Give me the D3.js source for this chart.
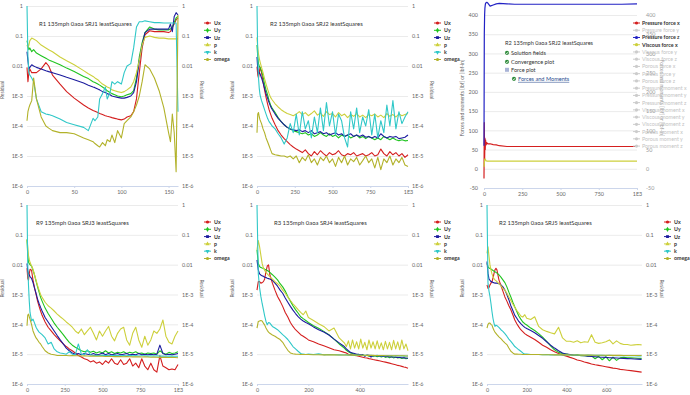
<!DOCTYPE html>
<html>
<head>
<meta charset="utf-8">
<script src="https://cdn.jsdelivr.net/npm/d3@7"></script>
<style>
  body { margin: 0; background: #fff; }
  svg { display: block; font-family: Lato, "Open Sans", "DejaVu Sans", sans-serif; }
</style>
</head>
<body>
<script>
// residual series shared by the five convergence charts
const seriesNames = ["Ux", "Uy", "Uz", "p", "k", "omega"];
const seriesColors = ["#d41f1f", "#1fc41f", "#1c1c9e", "#cdd03c", "#30c8c8", "#b2b22a"];
const resTicks = [1, 0.1, 0.01, 1e-3, 1e-4, 1e-5, 1e-6];
const resTickLabels = ["1", "0.1", "0.01", "1E-3", "1E-4", "1E-5", "1E-6"];

// R1 SRJ1
const srj1Iter = [0,1,2,3,5,7,10,15,20,23,27,35,42,50,60,65,70,72,75,77,80,83,85,88,90,93,96,100,103,106,110,113,116,119,122,125,130,135,140,145,150,152,154,156,158,160];
const srj1Ux = [0.009,0.003,0.006,0.008,0.006,0.006,0.006, 0.008,0.013,0.01,0.005,0.0025,0.0014,8.5e-4, 5e-4,4e-4,3.3e-4,3.1e-4,2.8e-4,2.6e-4,2.4e-4, 2.2e-4,2.1e-4,2e-4,1.9e-4,1.8e-4,1.7e-4,1.6e-4, 1.7e-4,2e-4,2.2e-4,3e-4,8e-4,0.006,0.04, 0.11,0.15,0.14,0.14,0.14,0.13,0.14, 0.2,0.25,0.35,0.4];
const srj1Uy = [0.07,0.05,0.035,0.04,0.03,0.035,0.027, 0.022,0.018,0.016,0.014,0.011,0.0085,0.0065, 0.0045,0.0038,0.003,0.0028,0.0025,0.0023,0.002, 0.0017,0.0015,0.0013,0.0012,0.0011,0.001,9.5e-4, 0.001,0.0011,0.0012,0.0015,0.004,0.02,0.06, 0.13,0.2,0.17,0.16,0.16,0.16,0.17, 0.2,0.28,0.4,0.45];
const srj1Uz = [0.03,0.015,0.008,0.009,0.011,0.01,0.009, 0.008,0.007,0.0065,0.006,0.005,0.0042,0.0035, 0.0027,0.0023,0.002,0.0019,0.0017,0.0016,0.0014, 0.0013,0.0012,0.0011,0.001,9.5e-4,9e-4,8.5e-4, 8.5e-4,9e-4,0.001,0.0013,0.003,0.015,0.05, 0.13,0.17,0.17,0.17,0.17,0.17,0.25, 0.14,0.45,0.6,0.5];
const srj1P = [0.05,0.04,0.05,0.07,0.085,0.08,0.07, 0.05,0.04,0.035,0.03,0.02,0.015,0.011, 0.007,0.0055,0.0045,0.004,0.0035,0.003,0.0025, 0.0022,0.002,0.0018,0.0016,0.0015,0.0014,0.0013, 0.0014,0.0016,0.002,0.003,0.006,0.015,0.05, 0.09,0.1,0.09,0.085,0.085,0.08,0.08, 0.08,0.08,0.08,0.08];
const srj1K = [1,0.02,0.006,0.005,0.004,0.003,8e-4, 3e-4,2.5e-4,2.4e-4,2.2e-4,1.7e-4,1.3e-4,1.1e-4, 9e-5,7e-5,1.8e-4,1.5e-4,2e-4,8e-4,0.0012, 0.002,8e-4,0.0013,0.003,0.0025,0.003,0.0025, 0.006,0.01,0.012,0.04,0.2,0.3,0.3, 0.32,0.3,0.28,0.28,0.27,0.27,0.27, 0.27,0.27,0.27,3e-4];
const srj1Omega = [1.5e-4,3e-4,4e-4,5e-4,7e-4,0.004,8e-4, 2e-4,1e-4,8.5e-5,7e-5,6e-5,6e-5,5.5e-5, 4e-5,3.5e-5,3e-5,2.6e-5,2.2e-5,2e-5,2.8e-5, 2.2e-5,3.5e-5,3e-5,5e-5,2.8e-5,7e-5,4e-5, 1.2e-4,1.5e-4,2e-4,3e-4,5e-4,0.001,0.003, 0.011,0.008,0.004,0.0015,4e-4,6e-5,3e-5, 2.5e-4,6e-5,3e-6,0.5];

// R2 SRJ2
const srj2Iter = [0,5,10,15,20,30,40,50,60,70,80,90,100,120,140,160,180,200,220,240,260,280,300,320,340,360,380,400,420,440,460,480,500,520,540,560,580,600,620,640,660,680,700,720,740,760,780,800,820,840,860,880,900,920,940,960,980,1000];
const srj2Ux = [0.0095,0.005,0.004,0.006,0.009,0.006,0.003,0.0016,9e-4,5.5e-4,3.5e-4,2.5e-4,1.8e-4,1.1e-4,7e-5,5e-5,3.8e-5,3e-5,2.4e-5,2e-5,
  1.7e-5,1.5e-5,1.3e-5,1.6e-5,1.2e-5,1.0e-5,1.4e-5,1.1e-5,1.5e-5,1.2e-5, 1.0e-5,1.3e-5,1.1e-5,1.2e-5,1.5e-5,1.1e-5,1.0e-5,1.2e-5,1.1e-5,1.3e-5, 1.0e-5,1.1e-5,1.2e-5,1.0e-5,1.1e-5,1.3e-5,1.0e-5,1.1e-5,1.7e-5,1.2e-5, 1.0e-5,1.4e-5,1.1e-5,1.3e-5,1.0e-5,1.2e-5,9e-6,1.1e-5];
const srj2Uy = [0.05,0.02,0.012,0.01,0.009,0.007,0.0045,0.0025,0.0016,0.0011,7e-4,5e-4,4e-4,2.8e-4,1.9e-4,1.4e-4,1.1e-4,9e-5,8e-5,7e-5,
  6.5e-5,6e-5,5.5e-5,6e-5,5e-5,5.5e-5,4.5e-5,5e-5,6e-5,5e-5, 4.5e-5,5.5e-5,4.5e-5,5e-5,4e-5,5e-5,4.5e-5,5e-5,4e-5,4.5e-5, 5e-5,4e-5,4.5e-5,3.8e-5,4.5e-5,4e-5,3.5e-5,4e-5,3.5e-5,4.5e-5, 4e-5,3.5e-5,4e-5,3.5e-5,3.2e-5,3.5e-5,3.2e-5,3.3e-5];
const srj2Uz = [0.02,0.008,0.0055,0.006,0.0055,0.004,0.0028,0.0018,0.0012,8.5e-4,6e-4,4.5e-4,3.6e-4,2.5e-4,1.8e-4,1.4e-4,1.1e-4,9e-5,8e-5,7.5e-5,
  7e-5,7.5e-5,6.5e-5,7e-5,6e-5,7e-5,5.5e-5,6e-5,6.5e-5,5.5e-5, 6e-5,5e-5,5.5e-5,6e-5,5e-5,5.5e-5,4.5e-5,5e-5,5.5e-5,4.5e-5, 5e-5,4.5e-5,5e-5,4.2e-5,4.5e-5,4e-5,4.5e-5,4e-5,5.5e-5,4.5e-5, 4e-5,4.5e-5,4.2e-5,4.5e-5,3.8e-5,4e-5,4.2e-5,5e-5];
const srj2P = [0.09,0.04,0.025,0.018,0.014,0.009,0.006,0.0038,0.0025,0.0017,0.0012,9e-4,7.5e-4,5.5e-4,4.3e-4,3.5e-4,3e-4,2.6e-4,2.4e-4,2.2e-4,
  2.5e-4,3e-4,2.4e-4,2.8e-4,2.2e-4,2.6e-4,3.2e-4,2.3e-4,2.7e-4,2.1e-4, 3e-4,2.4e-4,2.6e-4,2e-4,2.8e-4,2.2e-4,2.5e-4,1.9e-4,2.4e-4,2.1e-4, 2.6e-4,2e-4,2.3e-4,1.9e-4,2.4e-4,2.2e-4,2.5e-4,2e-4,2.3e-4,1.9e-4, 2.6e-4,2.1e-4,2.4e-4,2e-4,2.5e-4,2.2e-4,2.4e-4,2.6e-4];
const srj2K = [1,0.02,0.004,0.0018,0.0011,7e-4,5e-4,3.5e-4,2.5e-4,1.8e-4,1.4e-4,1.2e-4,1e-4,8e-5,5.5e-5,4e-5,2.5e-5,4e-5,1.2e-4,6e-5,
  2.5e-4,5e-5,3e-4,8e-5,1.5e-4,4e-5,2e-4,6e-5,4e-4,7e-5, 6e-4,1e-4,3e-4,5e-5,2.5e-4,1.5e-4,4e-5,2e-5,3e-4,8e-5, 4e-4,6e-5,2e-4,1e-4,3.5e-4,5e-5,2.5e-4,4e-5,1.5e-4,6e-5, 5e-4,1e-4,7e-4,8e-5,3e-4,1.2e-4,2e-4,3e-4];
const srj2Omega = [6e-5,2.5e-4,2.8e-4,2e-4,1.6e-4,1.2e-4,8e-5,6e-5,4e-5,3e-5,2.2e-5,1.6e-5,1.2e-5,1.1e-5,1.05e-5,1e-5,1e-5,9e-6,1e-5,8e-6,
  1e-5,6e-6,9e-6,7e-6,1.1e-5,6e-6,8e-6,5e-6,9e-6,7e-6, 1e-5,6e-6,8e-6,4.5e-6,9e-6,6e-6,1e-5,5e-6,8e-6,6.5e-6, 9e-6,5e-6,7e-6,1e-5,6e-6,8e-6,4e-6,9e-6,3.5e-6,8e-6, 6e-6,1e-5,5e-6,8e-6,6e-6,9e-6,5e-6,4.5e-6];

// R9 SRJ3
const srj3Iter = [0,5,10,15,20,30,40,50,60,70,80,90,100,120,140,160,180,200,220,240,260,280,300,320,340,360,380,400,420,440,460,480,500,520,540,560,580,600,620,640,660,680,700,720,740,760,780,800,820,840,860,880,900,920,940,960,980,1000];
const srj3Ux = [0.0076,0.0035,0.003,0.005,0.007,0.0065,0.003,0.0017,0.001,6e-4,4e-4,2.8e-4,2e-4,1.2e-4,8e-5,6e-5,4.5e-5,3.5e-5,2.8e-5,2.2e-5,
  1.8e-5,1.5e-5,1.3e-5,1.1e-5,9e-6,8e-6,7e-6,6.5e-6,5.5e-6,6e-6, 5e-6,5.5e-6,4.5e-6,6e-6,5e-6,7e-6,5e-6,4.5e-6,6.5e-6,4.5e-6, 5e-6,7e-6,4e-6,5e-6,3.5e-6,7e-6,4e-6,3e-6,5e-6,3e-6, 2.5e-6,9e-6,4e-6,3.5e-6,3e-6,3.2e-6,3e-6,4.5e-6];
const srj3Uy = [0.07,0.02,0.012,0.011,0.01,0.009,0.0065,0.0045,0.0028,0.0018,0.0012,8e-4,6e-4,3.5e-4,2.3e-4,1.6e-4,1.1e-4,8e-5,6e-5,4.5e-5,
  3.3e-5,2.5e-5,2e-5,1.7e-5,1.5e-5,1.3e-5,1.2e-5,1.3e-5,1.15e-5,1.25e-5, 1.1e-5,1.2e-5,1.1e-5,1.3e-5,1.1e-5,1.2e-5,1.05e-5,1.15e-5,1.1e-5,1.2e-5, 1.05e-5,1.15e-5,1.1e-5,1.2e-5,1.05e-5,1.1e-5,1.0e-5,1.1e-5,1.05e-5,1.1e-5, 1.0e-5,1.3e-5,1.1e-5,1.0e-5,1.15e-5,1.05e-5,1.1e-5,1.2e-5];
const srj3Uz = [0.011,0.006,0.005,0.0045,0.004,0.0035,0.0025,0.0016,0.0011,7e-4,5e-4,3.7e-4,2.8e-4,1.7e-4,1.2e-4,8.5e-5,6e-5,4.2e-5,3e-5,2.2e-5,
  1.6e-5,1.3e-5,1.1e-5,1e-5,1.05e-5,9.5e-6,1.05e-5,1e-5,9.5e-6,1.05e-5, 9.5e-6,1e-5,1.1e-5,9.5e-6,1.05e-5,9.5e-6,1e-5,1.05e-5,9.5e-6,1e-5, 1.05e-5,9.5e-6,1e-5,9.5e-6,1.05e-5,9.5e-6,1e-5,9.5e-6,1e-5,9.5e-6, 1e-5,2e-5,1.05e-5,9.5e-6,1e-5,9.5e-6,1e-5,1.05e-5];
const srj3P = [0.07,0.04,0.02,0.015,0.012,0.009,0.007,0.0045,0.003,0.002,0.0014,0.001,8e-4,5.5e-4,4.2e-4,3.5e-4,2.8e-4,2.2e-4,1.8e-4,1.5e-4,
  1.2e-4,1e-4,8e-5,6e-5,5e-5,7e-5,4.5e-5,6e-5,8e-5,5e-5, 3e-5,6e-5,4e-5,6e-5,8.5e-5,4e-5,2.8e-5,5e-5,7e-5,8e-5, 3e-5,2e-5,5e-5,8e-5,3e-5,1.7e-5,4e-5,2e-5,3e-5,6e-5, 5e-5,7e-5,1.4e-4,4e-5,2.5e-5,2.2e-5,4e-5,6e-5];
const srj3K = [1,0.01,0.002,6e-4,2.5e-4,1.3e-4,1.5e-4,1.1e-4,8e-5,6.5e-5,5.5e-5,5e-5,4.5e-5,3.5e-5,2.2e-5,2.5e-5,1.5e-5,1.2e-5,1.1e-5,1.05e-5,
  1e-5,1.2e-5,1e-5,9.5e-6,2.2e-5,1e-5,9.5e-6,1.4e-5,9.5e-6,9e-6, 9.2e-6,9e-6,9.3e-6,9e-6,9.1e-6,8.9e-6,9.2e-6,9e-6,8.8e-6,9e-6, 8.9e-6,9.1e-6,8.8e-6,9e-6,8.7e-6,8.9e-6,8.8e-6,8.6e-6,8.9e-6,8.7e-6, 8.8e-6,8.6e-6,8.7e-6,8.5e-6,8.7e-6,8.6e-6,8.5e-6,8.5e-6];
const srj3Omega = [9e-5,2e-4,2.2e-4,1.8e-4,1.5e-4,1e-4,6e-5,4.5e-5,3.5e-5,3e-5,2.5e-5,2.2e-5,1.8e-5,1.3e-5,1.1e-5,1e-5,9.5e-6,9e-6,9e-6,9e-6,
  9e-6,8.9e-6,9e-6,8.8e-6,8.9e-6,8.7e-6,8.8e-6,8.7e-6,8.6e-6,8.7e-6, 8.5e-6,8.6e-6,8.5e-6,8.4e-6,8.5e-6,8.4e-6,8.3e-6,8.4e-6,8.3e-6,8.2e-6, 8.3e-6,8.2e-6,8.1e-6,8.2e-6,8.1e-6,8e-6,8.1e-6,8e-6,7.9e-6,8e-6, 7.9e-6,7.8e-6,7.9e-6,7.8e-6,7.7e-6,7.8e-6,7.7e-6,7.6e-6];

// R3 SRJ4
const srj4Iter = [0,5,10,15,20,25,30,35,40,45,50,60,70,80,90,100,110,120,130,140,150,160,170,180,190,200,220,240,260,280,300,320,340,348,356,364,372,380,388,396,404,412,420,428,436,444,452,460,468,476,484,492,500,508,516,524,532,540,548,556,564,572,580,588];
const srj4Ux = [0.0014,0.0027,0.0027,0.0024,0.0025,0.0027,0.0033,0.006,0.009,0.0098,0.0046, 0.0024,0.0014,8.6e-4,6e-4,4e-4,2.5e-4,1.75e-4,1.15e-4,8.5e-5,6.6e-5,5.5e-5,4.5e-5,4e-5,3.5e-5,3e-5, 2.6e-5,2.2e-5,1.9e-5,1.65e-5,1.4e-5,1.3e-5,1.15e-5,
  1.1e-5,1.0e-5,9.7e-6,9.4e-6,9.1e-6,8.8e-6,8.5e-6,8.2e-6,7.9e-6,7.6e-6, 7.4e-6,7.1e-6,6.9e-6,6.6e-6,6.4e-6,6.2e-6,6e-6,5.8e-6,5.6e-6,5.4e-6, 5.2e-6,5e-6,4.8e-6,4.6e-6,4.4e-6,4.2e-6,4.1e-6,3.9e-6,3.7e-6,3.6e-6, 3.4e-6];
const srj4Uy = [0.031,0.011,0.0087,0.008,0.0077,0.0075,0.007,0.0068,0.0064,0.006,0.0055, 0.0046,0.0038,0.0031,0.0023,0.0018,0.0013,8.6e-4,6e-4,4.2e-4,3.1e-4,2.4e-4,1.8e-4,1.55e-4,1.35e-4,1.15e-4, 9e-5,7.4e-5,5.8e-5,4.5e-5,3.2e-5,2.2e-5,1.6e-5,
  1.35e-5,1.2e-5,1.1e-5,1.05e-5,1e-5,9.5e-6,1e-5,9e-6,9.5e-6,8.8e-6, 9.2e-6,8.5e-6,9e-6,8.3e-6,8.8e-6,8.2e-6,8.6e-6,8e-6,8.5e-6,7.8e-6, 8.3e-6,7.6e-6,8.2e-6,7.5e-6,8e-6,7.4e-6,7.8e-6,7.2e-6,7.6e-6,7e-6, 7.3e-6];
const srj4Uz = [0.0145,0.0067,0.0049,0.0045,0.0042,0.0041,0.0038,0.0037,0.0035,0.0034,0.0033, 0.003,0.0024,0.0019,0.0014,0.0011,7.6e-4,5.5e-4,4e-4,3e-4,2.3e-4,1.8e-4,1.5e-4,1.3e-4,1.15e-4,1.05e-4, 8.2e-5,6.6e-5,5.5e-5,4.4e-5,3.2e-5,2.4e-5,1.8e-5,
  1.5e-5,1.3e-5,1.15e-5,1.1e-5,1.05e-5,1e-5,9.8e-6,9.6e-6,9.5e-6,8.5e-6, 9.3e-6,9.2e-6,8e-6,9e-6,8.9e-6,8.8e-6,8.7e-6,8.6e-6,8.5e-6,8.4e-6, 8.3e-6,8.2e-6,8.1e-6,8e-6,7.9e-6,7.8e-6,7.7e-6,7.6e-6,7.5e-6,7.4e-6, 7.3e-6];
const srj4P = [0.031,0.064,0.04,0.021,0.011,0.0077,0.0064,0.0055,0.0049,0.0044,0.004, 0.0033,0.0027,0.0023,0.0019,0.0014,0.0011,8.2e-4,6.3e-4,4.9e-4,3.9e-4,3.1e-4,2.5e-4,2.1e-4,2.8e-4,1.7e-4, 1.35e-4,1.05e-4,8.5e-5,6e-5,7.5e-5,3.5e-5,2.4e-5,
  1.8e-5,2.8e-5,1.5e-5,3e-5,1.6e-5,2.6e-5,1.5e-5,3.2e-5,1.6e-5,2.5e-5, 1.4e-5,3e-5,1.6e-5,2.6e-5,1.5e-5,2.8e-5,1.5e-5,2.4e-5,1.4e-5,2.7e-5, 1.5e-5,2.5e-5,1.4e-5,2.9e-5,1.5e-5,2.6e-5,1.4e-5,3e-5,1.5e-5,2.2e-5, 1.3e-5];
const srj4K = [1,0.005,0.0017,8.6e-4,5e-4,3.1e-4,1.9e-4,1.25e-4,9.7e-5,1.15e-4,1.1e-4, 8.5e-5,7.5e-5,6.6e-5,5.5e-5,4.5e-5,3.8e-5,3.1e-5,2.4e-5,1.8e-5,1.5e-5,1.25e-5,1.05e-5,1e-5,9.8e-6,1e-5, 9.7e-6,1.02e-5,9.5e-6,9.8e-6,9.6e-6,9.5e-6,9.4e-6,
  9.5e-6,9.3e-6,9.4e-6,9.2e-6,9.3e-6,9.1e-6,9.3e-6,9.2e-6,9e-6,9.2e-6, 9.1e-6,9e-6,9.1e-6,8.9e-6,9e-6,9.1e-6,8.9e-6,9e-6,8.8e-6,8.9e-6, 9e-6,8.8e-6,8.9e-6,8.7e-6,8.8e-6,8.9e-6,8.7e-6,8.8e-6,8.6e-6,8.7e-6, 8.7e-6];
const srj4Omega = [7.5e-5,1.25e-4,1.3e-4,1.35e-4,1.3e-4,1.1e-4,9.4e-5,7.5e-5,6.3e-5,5.5e-5,5e-5, 4.4e-5,4e-5,3.5e-5,3.1e-5,2.5e-5,1.8e-5,1.35e-5,1.1e-5,1.03e-5,1e-5,9.9e-6,9.8e-6,9.8e-6,9.7e-6,9.7e-6, 9.6e-6,9.6e-6,9.5e-6,9.5e-6,9.5e-6,9.4e-6,9.4e-6,
  9.4e-6,9.4e-6,9.3e-6,9.3e-6,9.3e-6,9.3e-6,9.2e-6,9.2e-6,9.2e-6,9.2e-6, 9.1e-6,9.1e-6,9.1e-6,9.1e-6,9e-6,9e-6,9e-6,9e-6,9e-6,8.9e-6, 8.9e-6,8.9e-6,8.9e-6,8.9e-6,8.8e-6,8.8e-6,8.8e-6,8.8e-6,8.8e-6,8.7e-6, 8.7e-6];

// R2 SRJ5
const srj5Iter = [0,5,10,15,20,25,30,35,40,45,50,60,70,80,90,100,110,120,130,140,150,160,170,180,190,200,220,240,260,280,300,320,340,360,380,400,418,436,454,472,490,508,526,544,562,580,598,616,634,652,670,688,706,724,742,760,778];
const srj5Ux = [0.0021,0.0016,0.0017,0.0021,0.0024,0.0027,0.0035,0.005,0.0067,0.0076,0.0067, 0.0031,0.002,0.0013,8.3e-4,6e-4,4.2e-4,3.1e-4,2.1e-4,1.4e-4,1.05e-4,8.2e-5,6.6e-5,5.7e-5,4.9e-5,4.4e-5, 3.7e-5,3.1e-5,2.5e-5,2e-5,1.7e-5,1.4e-5,1.2e-5,1.05e-5,9.4e-6,8.6e-6,
  7.8e-6,7.2e-6,6.4e-6,6e-6,5.5e-6,5.1e-6,4.7e-6,4.4e-6,4.2e-6,4e-6, 3.8e-6,3.6e-6,3.4e-6,3.3e-6,3.1e-6,3e-6,2.9e-6,2.8e-6,2.7e-6,2.6e-6, 2.5e-6];
const srj5Uy = [0.011,0.0087,0.0077,0.0075,0.0071,0.0068,0.0064,0.006,0.0058,0.0055,0.0052, 0.0046,0.0038,0.0031,0.0025,0.0018,0.0012,8.3e-4,5.5e-4,3.8e-4,2.7e-4,1.9e-4,1.5e-4,1.2e-4,1.05e-4,9.5e-5, 7.5e-5,6.2e-5,4.9e-5,3.7e-5,2.7e-5,1.9e-5,1.4e-5,1.15e-5,1.05e-5,1e-5,
  9.6e-6,9.2e-6,9.5e-6,8.8e-6,9e-6,8.5e-6,8.8e-6,7e-6,8.5e-6,6.5e-6, 8.2e-6,6e-6,8e-6,6.2e-6,7.5e-6,7.8e-6,7.6e-6,7.5e-6,7.4e-6,7.3e-6, 7.2e-6];
const srj5Uz = [0.0127,0.0052,0.0033,0.003,0.0027,0.0027,0.0025,0.0025,0.0024,0.0024,0.0024, 0.0023,0.0021,0.0018,0.0014,0.001,6.7e-4,4.2e-4,2.9e-4,2e-4,1.6e-4,1.25e-4,1.05e-4,9e-5,7.9e-5,7.2e-5, 6.2e-5,5.2e-5,4.2e-5,3.4e-5,2.6e-5,2e-5,1.6e-5,1.3e-5,1.1e-5,1e-5,
  9.7e-6,9.4e-6,9.2e-6,9e-6,8.8e-6,8.6e-6,8.4e-6,8.2e-6,8e-6,7.9e-6, 7.8e-6,7.6e-6,7.5e-6,7.4e-6,7.3e-6,7.2e-6,7.1e-6,7e-6,6.9e-6,6.8e-6, 6.7e-6];
const srj5P = [0.024,0.04,0.019,0.0098,0.0067,0.0049,0.004,0.0034,0.0031,0.0029,0.0027, 0.0023,0.002,0.0016,0.0014,0.0011,8.3e-4,6.3e-4,4.8e-4,3.7e-4,2.9e-4,2.4e-4,1.9e-4,1.75e-4,2.1e-4,1.6e-4, 1.45e-4,1.8e-4,8.5e-5,6.6e-5,5.8e-5,5.2e-5,4.8e-5,8e-5,3.5e-5,2.7e-5,
  2.7e-5,2.5e-5,2.8e-5,2.4e-5,2.6e-5,2.5e-5,4.5e-5,2.5e-5,2.3e-5,2.4e-5, 2.6e-5,3e-5,2.2e-5,2.8e-5,2.3e-5,2.1e-5,2.1e-5,2e-5,2.05e-5,2.1e-5, 2.05e-5];
const srj5K = [1,0.0024,0.0013,8.6e-4,5e-4,2.7e-4,1.6e-4,1.1e-4,8.5e-5,9.4e-5,9e-5, 7.9e-5,6.6e-5,5.8e-5,4.9e-5,4e-5,3.2e-5,2.7e-5,2.2e-5,1.8e-5,1.6e-5,1.4e-5,1.25e-5,1.1e-5,1e-5,1e-5, 9.8e-6,9.7e-6,9.8e-6,9.6e-6,9.7e-6,9.5e-6,9.6e-6,9.5e-6,9.4e-6,9.5e-6,
  9.4e-6,9.3e-6,9.4e-6,9.3e-6,9.2e-6,9.3e-6,9.2e-6,9.1e-6,9.2e-6,9.1e-6, 9e-6,9.1e-6,9e-6,8.9e-6,9e-6,8.9e-6,8.8e-6,8.9e-6,8.8e-6,8.7e-6, 8.7e-6];
const srj5Omega = [7.5e-5,1e-4,1.1e-4,1.1e-4,1e-4,9.4e-5,7.5e-5,6.3e-5,5.5e-5,5e-5,4.5e-5, 3.8e-5,3.3e-5,2.8e-5,2.4e-5,2.1e-5,1.6e-5,1.25e-5,1.1e-5,1e-5,1e-5,9.9e-6,9.9e-6,9.8e-6,9.8e-6,9.8e-6, 9.7e-6,9.7e-6,9.7e-6,9.6e-6,9.6e-6,9.6e-6,9.5e-6,9.5e-6,9.5e-6,9.5e-6,
  9.4e-6,9.4e-6,9.4e-6,9.3e-6,9.3e-6,9.3e-6,9.3e-6,9.2e-6,9.2e-6,9.2e-6, 9.2e-6,9.1e-6,9.1e-6,9.1e-6,9.1e-6,9e-6,9e-6,9e-6,9e-6,9e-6, 9e-6];

// force plot (R2 SRJ2)
const forceIter = [0,2,4,6,8,10,14,18,25,40,60,80,100,150,200,300,400,500,600,700,800,900,1000];
const pressureForceX = [-25,120,20,80,50,75,62,68,65,65,63,62,60,58,58,58,58,58,58,58,58,58,58];
const pressureForceZ = [60,350,400,418,425,430,432,433,431,423,426,429,430,429,428,428,428,428,428,428,428,428,429];
const viscousForceX = [5,15,22,26,25,23,21,20,20,20,20,20,20,20,20,20,20,20,20,20,20,20,20];
const forceTicks = [-50,0,50,100,150,200,250,300,350,400];
const forceTickLabels = ["-50","0","50","100","150","200","250","300","350","400"];
const forceLegend = ["Pressure force x","Pressure force y","Pressure force z","Viscous force x","Viscous force y","Viscous force z",
  "Porous force x","Porous force y","Porous force z","Pressure moment x","Pressure moment y","Pressure moment z",
  "Viscous moment x","Viscous moment y","Viscous moment z","Porous moment x","Porous moment y","Porous moment z"];
const forceShown = {"Pressure force x": "#d41f1f", "Pressure force z": "#2222c4", "Viscous force x": "#cdd03c"};
const menuItems = ["Solution fields", "Convergence plot", "Force plot", "Forces and Moments"];

const iterTicks1k = [0, 250, 500, 750, 1000];
const iterLabels1k = ["0", "250", "500", "750", "1E3"];

const charts = [
  {title: "R1 135mph 0aoa SRJ1 leastSquares", iter: srj1Iter, data: [srj1Ux, srj1Uy, srj1Uz, srj1P, srj1K, srj1Omega],
   xMax: 160, xTicks: [0, 50, 100, 150], xLabels: ["0", "50", "100", "150"], x0: 27, x1: 178, y0: 6, y1: 186, tx: 39, lx: 204, rt: 200},
  {title: "R2 135mph 0aoa SRJ2 leastSquares", iter: srj2Iter, data: [srj2Ux, srj2Uy, srj2Uz, srj2P, srj2K, srj2Omega],
   xMax: 1000, xTicks: iterTicks1k, xLabels: iterLabels1k, x0: 257, x1: 408, y0: 6, y1: 186, tx: 270, lx: 434, rt: 430},
  {title: "R9 135mph 0aoa SRJ3 leastSquares", iter: srj3Iter, data: [srj3Ux, srj3Uy, srj3Uz, srj3P, srj3K, srj3Omega],
   xMax: 1000, xTicks: iterTicks1k, xLabels: iterLabels1k, x0: 27, x1: 178, y0: 205, y1: 384, tx: 36, lx: 204, rt: 200},
  {title: "R3 135mph 0aoa SRJ4 leastSquares", iter: srj4Iter, data: [srj4Ux, srj4Uy, srj4Uz, srj4P, srj4K, srj4Omega],
   xMax: 588, xTicks: [0, 200, 400], xLabels: ["0", "200", "400"], x0: 257, x1: 408, y0: 205, y1: 384, tx: 274, lx: 434, rt: 430},
  {title: "R2 135mph 0aoa SRJ5 leastSquares", iter: srj5Iter, data: [srj5Ux, srj5Uy, srj5Uz, srj5P, srj5K, srj5Omega],
   xMax: 780, xTicks: [0, 200, 400, 600], xLabels: ["0", "200", "400", "600"], x0: 487, x1: 642, y0: 205, y1: 384, tx: 499, lx: 664, rt: 660}
];

const svg = d3.select("body").append("svg").attr("width", 690).attr("height", 395);
const symbols = [d3.symbolCircle, d3.symbolDiamond, d3.symbolSquare, d3.symbolTriangle, d3.symbolTriangle, d3.symbolCircle];

function tidy(a, size) {
  a.attr("font-size", null).attr("font-family", null);
  a.selectAll("text").attr("fill", "#666").style("font-size", size + "px");
}

function drawResidual(c) {
  const g = svg.append("g");
  const x = d3.scaleLinear().domain([0, c.xMax]).range([c.x0, c.x1]);
  const y = d3.scaleLog().domain([1e-6, 1]).range([c.y1, c.y0]);

  g.append("g").attr("transform", `translate(${c.x0},0)`)
    .call(d3.axisLeft(y).tickValues(resTicks).tickSize(-(c.x1 - c.x0)).tickFormat(""))
    .call(a => a.select(".domain").remove())
    .call(a => a.selectAll("line").attr("stroke", "#e6e6e6").attr("stroke-width", 0.8));

  const left = g.append("g").attr("transform", `translate(${c.x0},0)`)
    .call(d3.axisLeft(y).tickValues(resTicks).tickSize(0).tickPadding(4).tickFormat((d, i) => resTickLabels[i]));
  left.select(".domain").remove();
  tidy(left, 5.4);
  const right = g.append("g").attr("transform", `translate(${c.x1},0)`)
    .call(d3.axisRight(y).tickValues(resTicks).tickSize(0).tickPadding(4).tickFormat((d, i) => resTickLabels[i]));
  right.select(".domain").remove();
  tidy(right, 5.4);
  const bottom = g.append("g").attr("transform", `translate(0,${c.y1})`)
    .call(d3.axisBottom(x).tickValues(c.xTicks).tickSize(2).tickSizeOuter(0).tickPadding(2).tickFormat((d, i) => c.xLabels[i]));
  bottom.select(".domain").attr("stroke", "#ccd6eb");
  bottom.selectAll("line").attr("stroke", "#ccd6eb");
  tidy(bottom, 5.4);

  const yMid = (c.y0 + c.y1) / 2 - 6;
  g.append("text").attr("transform", `translate(${c.x0 - 23},${yMid}) rotate(-90)`)
    .attr("text-anchor", "middle").attr("fill", "#666").style("font-size", "5px").text("Residual");
  g.append("text").attr("transform", `translate(${c.rt},${yMid}) rotate(90)`)
    .attr("text-anchor", "middle").attr("fill", "#666").style("font-size", "5px").text("Residual");

  c.data.forEach((vals, s) => {
    const line = d3.line().x((d, i) => x(c.iter[i])).y(d => y(d));
    g.append("path").attr("d", line(vals)).attr("fill", "none")
      .attr("stroke", seriesColors[s]).attr("stroke-width", 1.1).attr("stroke-linejoin", "round");
  });

  g.append("text").attr("x", c.tx).attr("y", c.y0 + 19.5).attr("fill", "#333")
    .style("font-size", "5.9px").text(c.title);

  const ly = c.y0 + 17;
  seriesNames.forEach((n, s) => {
    const yy = ly + s * 7.3;
    g.append("line").attr("x1", c.lx).attr("x2", c.lx + 7).attr("y1", yy).attr("y2", yy)
      .attr("stroke", seriesColors[s]).attr("stroke-width", 1);
    g.append("path").attr("d", d3.symbol(symbols[s], 8)())
      .attr("transform", `translate(${c.lx + 3.5},${yy})` + (s === 4 ? " rotate(180)" : ""))
      .attr("fill", seriesColors[s]);
    g.append("text").attr("x", c.lx + 10).attr("y", yy + 1.9).attr("fill", "#333")
      .style("font-size", "5.3px").style("font-weight", "bold").text(n);
  });
}

charts.forEach(drawResidual);

// force chart
(function () {
  const x0 = 484, x1 = 637;
  const g = svg.append("g");
  const x = d3.scaleLinear().domain([0, 1000]).range([x0, x1]);
  const y = d3.scaleLinear().domain([-50, 400]).range([188, 15]);

  g.append("g").attr("transform", `translate(${x0},0)`)
    .call(d3.axisLeft(y).tickValues(forceTicks).tickSize(-(x1 - x0)).tickFormat(""))
    .call(a => a.select(".domain").remove())
    .call(a => a.selectAll("line").attr("stroke", "#e6e6e6").attr("stroke-width", 0.8));
  const left = g.append("g").attr("transform", `translate(${x0},0)`)
    .call(d3.axisLeft(y).tickValues(forceTicks).tickSize(0).tickPadding(6).tickFormat((d, i) => forceTickLabels[i]));
  left.select(".domain").remove();
  tidy(left, 5.4);
  const right = g.append("g").attr("transform", `translate(${x1},0)`)
    .call(d3.axisRight(y).tickValues(forceTicks).tickSize(0).tickPadding(9).tickFormat((d, i) => forceTickLabels[i]));
  right.select(".domain").remove();
  tidy(right, 5.4);
  right.selectAll("text").attr("fill", "#999");
  const bottom = g.append("g").attr("transform", "translate(0,188)")
    .call(d3.axisBottom(x).tickValues(iterTicks1k).tickSize(2).tickSizeOuter(0).tickPadding(2).tickFormat((d, i) => iterLabels1k[i]));
  bottom.select(".domain").attr("stroke", "#ccd6eb");
  bottom.selectAll("line").attr("stroke", "#ccd6eb");
  tidy(bottom, 5.4);

  g.append("text").attr("transform", "translate(464,98) rotate(-90)").attr("text-anchor", "middle")
    .attr("fill", "#666").style("font-size", "5px").text("Forces and moments [lbf] or [lbf-in]");
  g.append("text").attr("transform", "translate(660,98) rotate(90)").attr("text-anchor", "middle")
    .attr("fill", "#999").style("font-size", "5px").text("Forces and moments [lbf] or [lbf-in]");

  const line = d3.line().x((d, i) => x(forceIter[i])).y(d => y(d));
  [[pressureForceX, "Pressure force x"], [pressureForceZ, "Pressure force z"], [viscousForceX, "Viscous force x"]]
    .forEach(([vals, name]) => {
      g.append("path").attr("d", line(vals)).attr("fill", "none")
        .attr("stroke", forceShown[name]).attr("stroke-width", 1.2).attr("stroke-linejoin", "round");
    });

  forceLegend.forEach((n, i) => {
    const yy = 23 + i * 7.24;
    const col = forceShown[n] || "#cccccc";
    g.append("line").attr("x1", 633).attr("x2", 640).attr("y1", yy).attr("y2", yy)
      .attr("stroke", col).attr("stroke-width", 1);
    g.append("path").attr("d", d3.symbol(d3.symbolCircle, 8)()).attr("transform", `translate(636.5,${yy})`).attr("fill", col);
    g.append("text").attr("x", 642).attr("y", yy + 1.9).attr("fill", forceShown[n] ? "#333" : "#c4c4c4")
      .style("font-size", "5.3px").style("font-weight", forceShown[n] ? "bold" : "normal").text(n);
  });

  // context menu drawn over the plot
  g.append("text").attr("x", 505).attr("y", 45).attr("fill", "#333").style("font-size", "5.6px")
    .text("R2 135mph 0aoa SRJ2 leastSquares");
  const menuY = [53, 62, 70, 79];
  menuItems.forEach((m, i) => {
    const ix = i === 3 ? 514 : 507;
    if (i === 2) {
      g.append("rect").attr("x", ix - 2).attr("y", menuY[i] - 2.2).attr("width", 4).attr("height", 4).attr("fill", "#a9b3d6");
    } else {
      g.append("circle").attr("cx", ix).attr("cy", menuY[i] - 0.2).attr("r", 2.1).attr("fill", "#2e8b3a");
      g.append("path").attr("d", `M${ix - 1.1},${menuY[i] - 0.2} L${ix - 0.2},${menuY[i] + 0.8} L${ix + 1.2},${menuY[i] - 1.1}`)
        .attr("fill", "none").attr("stroke", "#fff").attr("stroke-width", 0.7);
    }
    g.append("text").attr("x", ix + 4).attr("y", menuY[i] + 1.9)
      .attr("fill", i === 3 ? "#2a4d8f" : "#333").style("font-size", "5.6px")
      .style("text-decoration", i === 3 ? "underline" : "none").text(m);
  });
})();
</script>
</body>
</html>
